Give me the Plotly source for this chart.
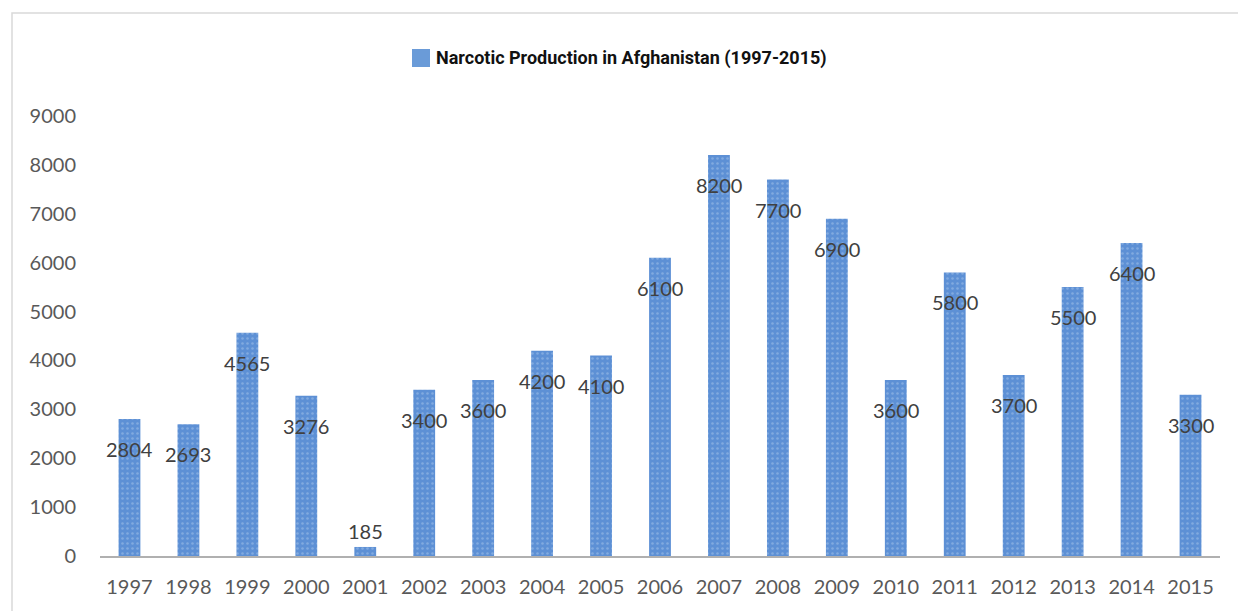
import plotly.graph_objects as go

years = ["1997", "1998", "1999", "2000", "2001", "2002", "2003", "2004", "2005", "2006",
         "2007", "2008", "2009", "2010", "2011", "2012", "2013", "2014", "2015"]
production = [2804, 2693, 4565, 3276, 185, 3400, 3600, 4200, 4100, 6100,
              8200, 7700, 6900, 3600, 5800, 3700, 5500, 6400, 3300]
series_name = "Narcotic Production in Afghanistan (1997-2015)"
y_ticks = [0, 1000, 2000, 3000, 4000, 5000, 6000, 7000, 8000, 9000]

W, H = 1238, 611
ML, MR, MT, MB = 100, 18, 116, 55
pw = W - ML - MR
ph = H - MT - MB

bar_bg = "#5d90d5"
bar_fg = "#a6c3ea"

fig = go.Figure()
fig.add_trace(go.Bar(
    x=years, y=production, name=series_name,
    marker=dict(color=bar_bg, line=dict(width=0),
                pattern=dict(shape=".", fgcolor=bar_fg, bgcolor=bar_bg, size=5, solidity=0.2)),
    showlegend=False,
))

label_font = dict(family="Lato, Carlito, sans-serif", size=20, color="#404040")
for i, v in enumerate(production):
    fig.add_annotation(x=i, y=v, text=str(v), showarrow=False, font=label_font,
                       yshift=(-30 if v > 1000 else 16), xref="x", yref="y")

def px_x(p):
    return (p - ML) / pw

def px_y(p):
    return (H - MB - p) / ph

# legend-like header
fig.add_shape(type="rect", xref="paper", yref="paper",
              x0=px_x(412), x1=px_x(430), y0=px_y(67), y1=px_y(49),
              fillcolor="#6a9bd8", line=dict(width=0))
fig.add_annotation(xref="paper", yref="paper", x=px_x(434), y=px_y(58),
                   xanchor="left", yanchor="middle", showarrow=False,
                   text="<b>" + series_name + "</b>",
                   font=dict(family="Roboto, sans-serif", size=18, color="#111111"))

# chart frame
fig.add_shape(type="rect", xref="paper", yref="paper",
              x0=px_x(12), x1=px_x(1300), y0=px_y(700), y1=px_y(13),
              line=dict(color="#d9d9d9", width=1.5), fillcolor="rgba(0,0,0,0)", layer="below")

tick_font = dict(family="Lato, Carlito, sans-serif", size=20, color="#595959")
fig.update_layout(
    width=W, height=H,
    margin=dict(l=ML, r=MR, t=MT, b=MB),
    paper_bgcolor="white", plot_bgcolor="white",
    bargap=0.63,
    xaxis=dict(type="category", range=[-0.5, len(years) - 0.5], showgrid=False, showline=True,
               linecolor="#b0b0b0", linewidth=2,
               ticks="", tickfont=tick_font, ticklabelstandoff=12),
    yaxis=dict(range=[0, 9000], tickvals=y_ticks, showgrid=False, zeroline=False,
               showline=False, ticks="", tickfont=tick_font, ticklabelstandoff=23),
)

fig.write_html("out.html")
